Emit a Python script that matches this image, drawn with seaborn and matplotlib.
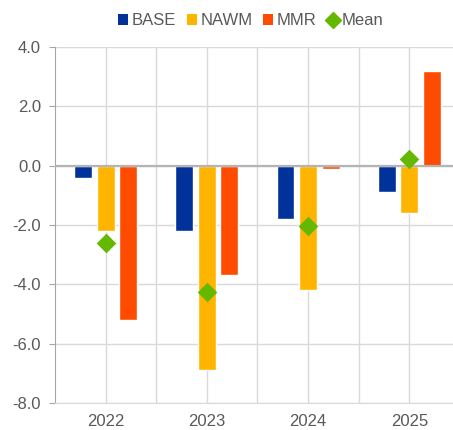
import matplotlib
matplotlib.use("Agg")
import matplotlib.pyplot as plt
import seaborn as sns
import pandas as pd
from matplotlib.patches import Patch
from matplotlib.lines import Line2D

years = ["2022", "2023", "2024", "2025"]
base = [-0.4, -2.2, -1.8, -0.9]
nawm = [-2.2, -6.9, -4.2, -1.6]
mmr = [-5.2, -3.7, -0.1, 3.2]
mean = [-2.6, -4.27, -2.03, 0.23]
models = ["BASE", "NAWM", "MMR"]
colors = ["#003299", "#FFB400", "#FF4B00"]
mean_color = "#65B800"
yticks = [4.0, 2.0, 0.0, -2.0, -4.0, -6.0, -8.0]

sns.set_style("white")
plt.rcParams["font.family"] = ["Liberation Sans", "DejaVu Sans"]
plt.rcParams["axes.unicode_minus"] = False

df = pd.DataFrame({
    "year": years * 3,
    "value": base + nawm + mmr,
    "model": [m for m in models for _ in years],
})
mdf = pd.DataFrame({"year": years, "mean": mean})

fig = plt.figure(figsize=(4.53, 4.30), dpi=100)
ax = fig.add_axes([0.1214, 0.0628, 0.894, 0.8279])

sns.barplot(data=df, x="year", y="value", hue="model", order=years,
            hue_order=models, palette=colors, saturation=1, width=0.667,
            gap=0.21, legend=False, ax=ax, zorder=3)
sns.stripplot(data=mdf, x="year", y="mean", order=years, jitter=False,
              marker="D", size=10, color=mean_color, linewidth=0, ax=ax,
              zorder=5)

ax.set_xlim(-0.5, 3.5)
ax.set_ylim(-8, 4)
ax.set_yticks(yticks)
ax.set_yticklabels([f"{v:.1f}" for v in yticks])
ax.set_xticks(range(len(years)))
ax.set_xticklabels(years)
ax.set_xticks([0.5, 1.5, 2.5], minor=True)
ax.set_xlabel("")
ax.set_ylabel("")

ax.grid(True, which="both", axis="x", color="#d9d9d9", linewidth=1, zorder=0)
ax.grid(True, which="major", axis="y", color="#d9d9d9", linewidth=1, zorder=0)
ax.set_axisbelow(True)
ax.axhline(0, color="#b4b4b4", linewidth=1.6, zorder=4)

for s in ["top", "right"]:
    ax.spines[s].set_visible(False)
ax.spines["left"].set_color("#a6a6a6")
ax.spines["bottom"].set_color("#d9d9d9")
ax.tick_params(axis="y", which="major", length=4, color="#a6a6a6",
               labelsize=12, labelcolor="#595959", pad=6, left=True)
ax.tick_params(axis="x", which="both", length=0, labelsize=12,
               labelcolor="#595959", pad=8)

handles = [Patch(facecolor=c, edgecolor="none") for c in colors]
handles.append(Line2D([], [], marker="D", linestyle="none", color=mean_color,
                      markersize=8.5))
fig.legend(handles, models + ["Mean"], loc="center",
           bbox_to_anchor=(0.553, 0.952), ncol=4, frameon=False,
           fontsize=12, labelcolor="#595959", handlelength=0.6,
           handleheight=0.6, handletextpad=0.22, columnspacing=0.65,
           borderaxespad=0)

fig.savefig("out.png", dpi=100)
